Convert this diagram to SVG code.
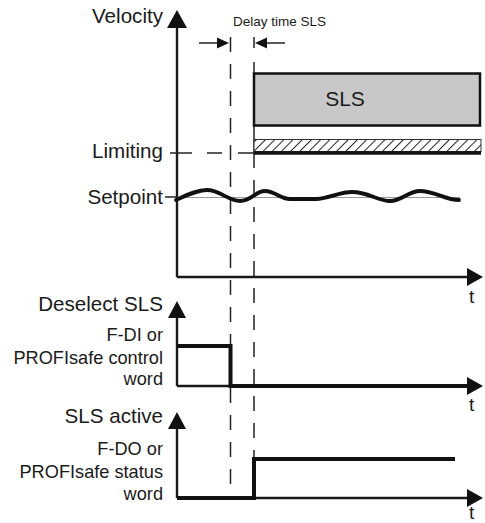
<svg xmlns="http://www.w3.org/2000/svg" width="485" height="523" viewBox="0 0 485 523">
  <style>
    text { font-family: "Liberation Sans", Arial, sans-serif; fill: #1a1a1a; }
    .lbl { font-size: 20.6px; text-anchor: end; }
    .sub { font-size: 18.2px; text-anchor: end; }
    .t { font-size: 19px; }
    .axis { stroke: #1a1a1a; stroke-width: 2.4; fill: none; }
    .sig { stroke: #111; stroke-width: 4; fill: none; stroke-linejoin: miter; }
    .dash { stroke: #222; stroke-width: 1.5; stroke-dasharray: 15 12; fill: none; }
    .thin { stroke: #222; stroke-width: 1.5; fill: none; }
    .head { fill: #111; }
  </style>
  <defs>
    <pattern id="hatch" patternUnits="userSpaceOnUse" width="6.5" height="6.5" patternTransform="rotate(45)">
      <rect width="6.5" height="6.5" fill="#fff"/>
      <line x1="0" y1="0" x2="0" y2="6.5" stroke="#222" stroke-width="2"/>
    </pattern>
  </defs>
  <rect width="485" height="523" fill="#fff"/>

  <!-- dashed time markers -->
  <g id="markers">
    <line class="dash" x1="230.5" y1="37" x2="230.5" y2="498"/>
    <line class="thin" x1="254" y1="37" x2="254" y2="48"/>
    <line class="thin" x1="254" y1="62" x2="254" y2="168"/>
    <line class="dash" x1="254" y1="180" x2="254" y2="460"/>
  </g>

  <!-- velocity diagram -->
  <g id="velocity">
    <line class="axis" x1="177" y1="26" x2="177" y2="277"/>
    <polygon class="head" points="177,10 167,28 187,28"/>
    <line class="axis" x1="177" y1="277" x2="468" y2="277"/>
    <polygon class="head" points="483,277 467,268 467,286"/>
    <text class="lbl" x="163" y="23">Velocity</text>
    <text class="t" x="469" y="303">t</text>
  </g>

  <g id="sls-box">
    <rect x="254" y="73.5" width="226" height="52" fill="#c8c8c8" stroke="#111" stroke-width="2.5"/>
    <text x="345" y="106" font-size="21" text-anchor="middle">SLS</text>
  </g>

  <g id="limiting">
    <rect x="254" y="139.5" width="227" height="12" fill="url(#hatch)" stroke="#333" stroke-width="1"/>
    <line x1="254" y1="153" x2="481" y2="153" stroke="#111" stroke-width="3.5"/>
    <line class="thin" x1="170" y1="153" x2="192" y2="153"/>
    <line class="thin" x1="207" y1="153" x2="222" y2="153"/>
    <line class="thin" x1="238" y1="153" x2="254" y2="153"/>
    <text class="lbl" x="163" y="158">Limiting</text>
  </g>

  <g id="setpoint">
    <line class="thin" x1="165" y1="197" x2="177" y2="197"/>
    <line x1="177" y1="197.5" x2="460" y2="197.5" stroke="#999" stroke-width="1.2"/>
    <path d="M176,200 C187,195 197,190 207,190 C220,190 228,201 240,201 C252,201 255,191 265,191 C275,191 280,199 290,199 L317,199 C330,198 340,192 352,192 C368,192 378,201 390,201 C402,201 408,191 420,191 C435,191 445,200 459,200" stroke="#111" stroke-width="3.8" fill="none" stroke-linecap="round"/>
    <text class="lbl" x="163" y="204">Setpoint</text>
  </g>

  <!-- deselect SLS diagram -->
  <g id="deselect">
    <line class="axis" x1="177" y1="315" x2="177" y2="386"/>
    <polygon class="head" points="177,301 168,318 186,318"/>
    <line class="axis" x1="177" y1="386" x2="468" y2="386"/>
    <polygon class="head" points="483,386 467,377 467,395"/>
    <polyline class="sig" points="177,346 230.5,346 230.5,386 470,386"/>
    <text class="lbl" x="163" y="311">Deselect SLS</text>
    <text class="sub" x="163" y="341">F-DI or</text>
    <text class="sub" x="163" y="364">PROFIsafe control</text>
    <text class="sub" x="163" y="385">word</text>
    <text class="t" x="469" y="411">t</text>
  </g>

  <!-- SLS active diagram -->
  <g id="sls-active">
    <line class="axis" x1="177" y1="426" x2="177" y2="498"/>
    <polygon class="head" points="177,412 168,429 186,429"/>
    <line class="axis" x1="177" y1="498" x2="468" y2="498"/>
    <polygon class="head" points="483,498 467,489 467,507"/>
    <polyline class="sig" points="177,498 254,498 254,459 455,459"/>
    <text class="lbl" x="163" y="423">SLS active</text>
    <text class="sub" x="163" y="455">F-DO or</text>
    <text class="sub" x="163" y="478">PROFIsafe status</text>
    <text class="sub" x="163" y="500">word</text>
    <text class="t" x="469" y="519">t</text>
  </g>

  <!-- delay time dimension -->
  <g id="connectors">
    <line class="thin" x1="199" y1="43" x2="219" y2="43"/>
    <polygon class="head" points="229,43 217,37.5 217,48.5"/>
    <line class="thin" x1="265" y1="43" x2="285" y2="43"/>
    <polygon class="head" points="255,43 267,37.5 267,48.5"/>
  </g>
  <g id="delay-label">
    <text x="233" y="26" font-size="13.5">Delay time SLS</text>
  </g>
</svg>
